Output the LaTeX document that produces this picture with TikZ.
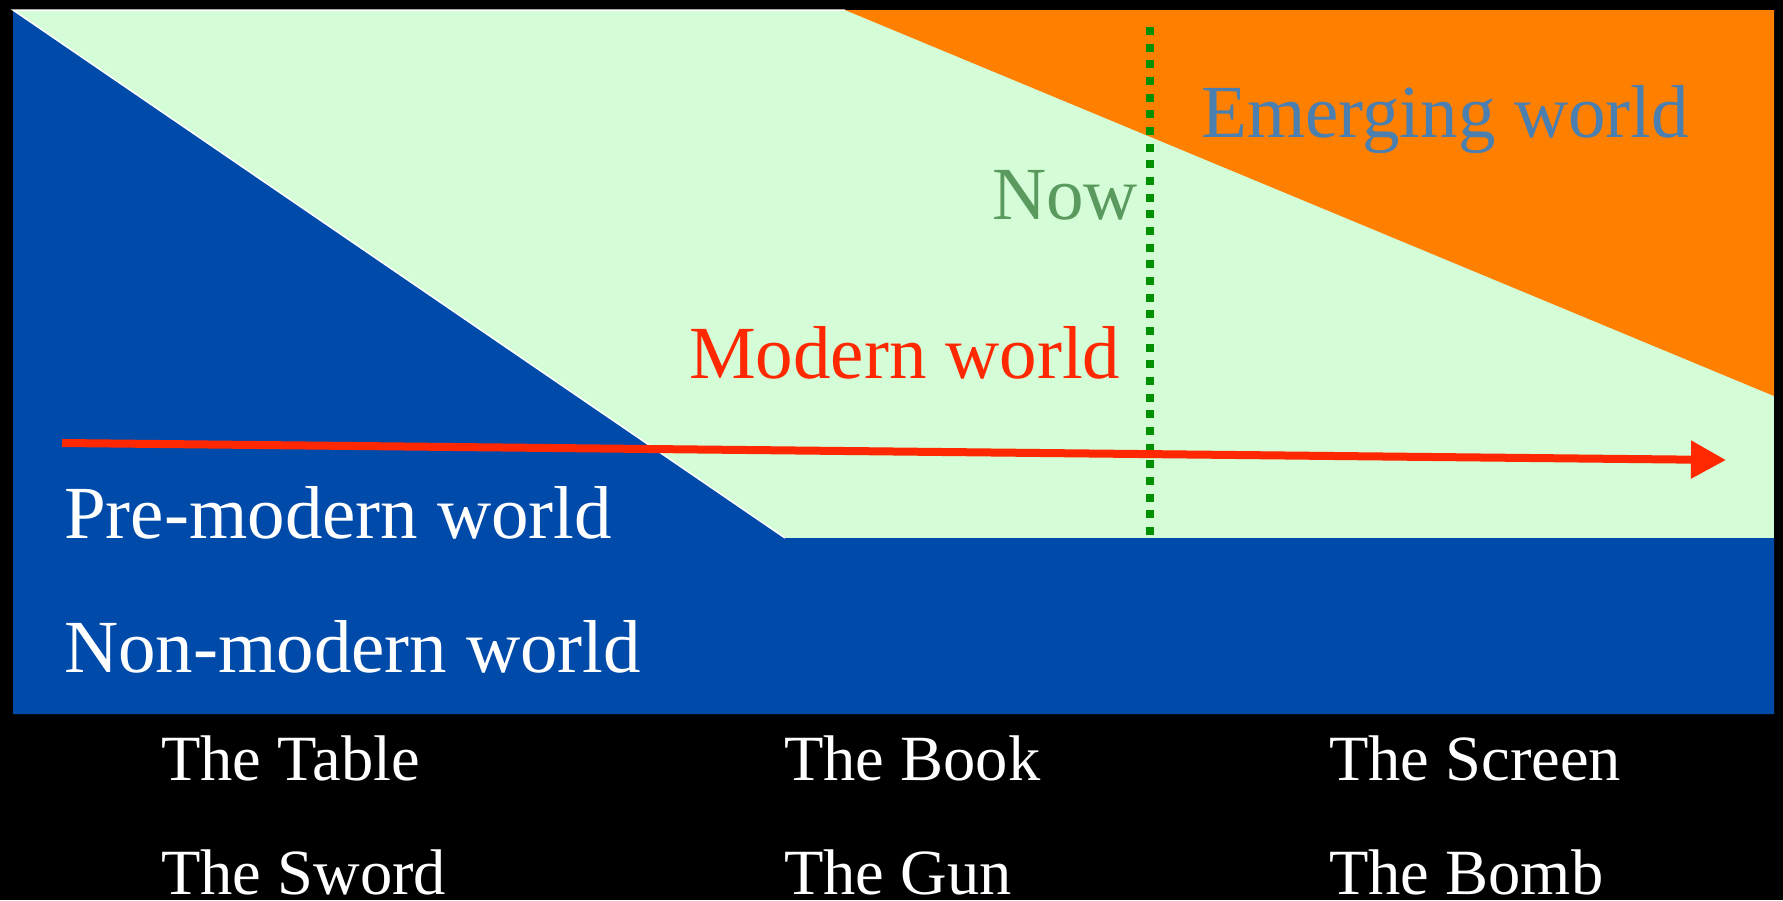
\documentclass[tikz,border=0pt]{standalone}
\usepackage{fontspec}
\setmainfont{Liberation Serif}
\usetikzlibrary{arrows.meta}
\definecolor{bgblue}{RGB}{0,74,170}
\definecolor{paleGreen}{RGB}{212,252,214}
\definecolor{emOrange}{RGB}{255,127,0}
\definecolor{arrowRed}{RGB}{255,40,0}
\definecolor{dotGreen}{RGB}{0,144,0}
\definecolor{nowGreen}{RGB}{90,154,94}
\definecolor{emBlue}{RGB}{74,127,176}
\begin{document}
\begin{tikzpicture}[x=1pt,y=-1pt,
  biglabel/.style={anchor=base west, inner sep=0pt, font=\fontsize{75}{80}\selectfont},
  itemlabel/.style={anchor=base west, inner sep=0pt, text depth=0pt, text=white, font=\fontsize{64.5}{70}\selectfont}]
\useasboundingbox (0,0) rectangle (1783,900);
\fill[black] (0,0) rectangle (1783,900);
% regions
\fill[paleGreen] (13,10) rectangle (1774,538);
\fill[bgblue] (13,10) -- (785,538) -- (1774,538) -- (1774,714) -- (13,714) -- cycle;
\draw[white, line width=1.5pt] (845,10) -- (13,10) -- (785,538);
\fill[emOrange] (845,10) -- (1774,10) -- (1774,396) -- cycle;
% now line
\coordinate (nowtop) at (1150,27);
\coordinate (nowbot) at (1150,535);
\draw[dotGreen, line width=8pt, dash pattern=on 8pt off 8.667pt] (nowtop) -- (nowbot);
% time arrow
\coordinate (tstart) at (62,443);
\coordinate (tend) at (1726,460);
\draw[arrowRed, line width=8pt, -{Triangle[length=35pt,width=36pt]}] (tstart) -- (tend);
% labels
\node[biglabel, text=emBlue] (emerging) at (1201,137) {Emerging world};
\node[biglabel, text=nowGreen] (now) at (992,219) {Now};
\node[biglabel, text=arrowRed] (modern) at (689,378) {Modern world};
\node[biglabel, text=white] (premodern) at (64,538) {Pre-modern world};
\node[biglabel, text=white] (nonmodern) at (64,672) {Non-modern world};
\node[itemlabel] (table) at (161,780) {The Table};
\node[itemlabel] (book) at (784,780) {The Book};
\node[itemlabel] (screen) at (1329,780) {The Screen};
\node[itemlabel] (sword) at (161,894) {The Sword};
\node[itemlabel] (gun) at (784,894) {The Gun};
\node[itemlabel] (bomb) at (1329,894) {The Bomb};
\end{tikzpicture}
\end{document}
